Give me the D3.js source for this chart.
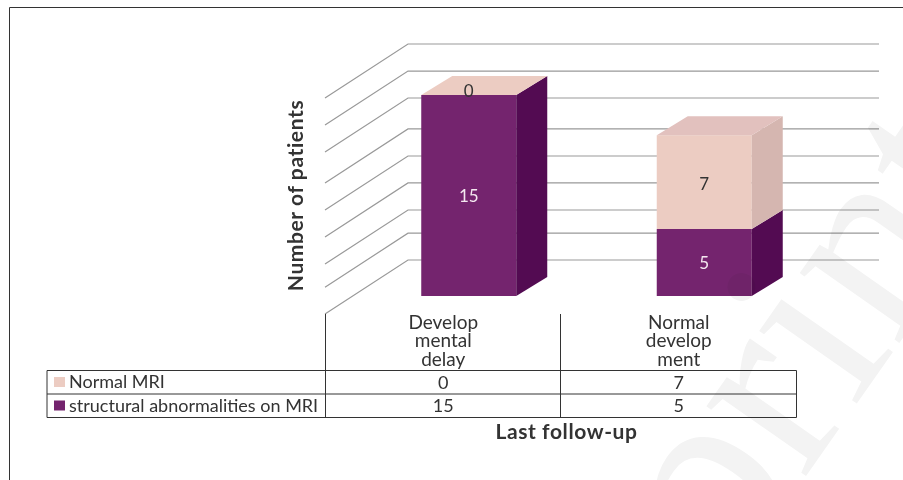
<!DOCTYPE html>
<html><head><meta charset="utf-8">
<script src="https://cdn.jsdelivr.net/npm/d3@7/dist/d3.min.js"></script>
<style>html,body{margin:0;background:#fff}svg{display:block}text{font-family:Lato,"Open Sans",sans-serif;fill:#333}</style>
</head><body><svg id="c" width="903" height="480"></svg>
<script>
const categories = ["Developmental delay", "Normal development"];
const categoryLines = [["Develop","mental","delay"],["Normal","develop","ment"]];
const seriesNames = ["Normal MRI", "structural abnormalities on MRI"];
const normalMRI = [0, 7];
const structural = [15, 5];
const gridLevels = [0, 2, 3.73, 5.75, 7.76, 9.78, 12.09, 14.1, 16.12];
const yTitle = "Number of patients";
const xTitle = "Last follow-up";

const svg = d3.select("#c");
const dx = 31, dy = -19;              // bar depth
const wx = 83, wy = -54;              // wall depth
const y = d3.scaleLinear().domain([0, 16]).range([296, 81.6]);
const xs = d3.scaleBand().domain(categories).range([325.5, 796.5]);
const barW = 95, barShift = 25.5;
const c = {pur:"#74246e", purSide:"#530b52", pink:"#ecccc2", pinkSide:"#d5b6b0", pinkTop:"#e2c1be"};

// frame
svg.append("path").attr("d","M9.5 480V7.5H903").attr("fill","none").attr("stroke","#333").attr("stroke-width",1);

// gridlines
const wallY = v => y(v) + 18;
const g = svg.append("g").attr("stroke","#999").attr("fill","none");
gridLevels.forEach(v => {
  const yl = wallY(v);
  g.append("path").attr("d", `M325 ${yl}L${325+wx} ${yl+wy}H879`).attr("stroke-width",1.2);
});

// bars
categories.forEach((cat, i) => {
  const mid = xs(cat) + xs.bandwidth() / 2;
  const left = mid + barShift - barW / 2;
  const right = left + barW;
  let base = 0;
  [[structural[i], c.pur, c.purSide], [normalMRI[i], c.pink, c.pinkSide]].forEach(([v, f, s]) => {
    const y0 = y(base), y1 = y(base + v);
    svg.append("rect").attr("x",left).attr("y",y1).attr("width",barW).attr("height",y0-y1).attr("fill",f);
    svg.append("path").attr("d",`M${right} ${y0}l${dx} ${dy}V${y1+dy}L${right} ${y1}Z`).attr("fill",s);
    base += v;
  });
  const top = y(base);
  const topFill = normalMRI[i] === 0 ? c.pink : c.pinkTop;
  svg.append("path").attr("d",`M${left} ${top}l${dx} ${dy}h${barW}l${-dx} ${-dy}Z`).attr("fill",topFill);
  const cx = left + barW / 2;
  const lab = (v, b, col, off) => svg.append("text").attr("x",cx).attr("y",y(b + v/2)+off).attr("text-anchor","middle")
     .style("font-size","17px").style("fill",col).text(v);
  lab(structural[i], 0, "#f4e8f0", 6.5);
  lab(normalMRI[i], structural[i], "#333", normalMRI[i] === 0 ? 2 : 7.5);
  categoryLines[i].forEach((t, k) => svg.append("text").attr("x",mid).attr("y",329+k*18.3)
     .attr("text-anchor","middle").style("font-size","19px").text(t));
});

// table
const t = svg.append("g").attr("stroke","#333").attr("stroke-width",1).attr("fill","none");
const tx = [47, 325.5, 560.5, 796.5], ty = [370.5, 394, 417.5];
ty.forEach(v => t.append("line").attr("x1",tx[0]).attr("x2",tx[3]).attr("y1",v).attr("y2",v));
tx.forEach(v => t.append("line").attr("x1",v).attr("x2",v).attr("y1",ty[0]).attr("y2",ty[2]));
[325.5,560.5].forEach(v => t.append("line").attr("x1",v).attr("x2",v).attr("y1",314).attr("y2",ty[0]));

[[normalMRI, c.pink],[structural, c.pur]].forEach(([vals, col], r) => {
  svg.append("rect").attr("x",54).attr("y",ty[r]+6.5).attr("width",11).attr("height",10).attr("fill",col);
  svg.append("text").attr("x",69).attr("y",ty[r]+17.5).style("font-size","18px").text(seriesNames[r]);
  vals.forEach((v,i) => svg.append("text").attr("x",xs(categories[i])+xs.bandwidth()/2).attr("y",ty[r]+18)
    .attr("text-anchor","middle").style("font-size","18px").text(v));
});

svg.append("text").attr("transform","translate(303,195.5) rotate(-90)").attr("text-anchor","middle")
  .style("font-size","21px").style("font-weight","700").style("letter-spacing","0.6px").text(yTitle);
svg.append("text").attr("x",566.5).attr("y",439).attr("text-anchor","middle")
  .style("font-size","21px").style("font-weight","700").style("letter-spacing","0.6px").text(xTitle);

// watermark
svg.append("text").attr("transform","translate(727,589) rotate(-55)")
  .style("font-family","'Liberation Serif',serif").style("font-size","265px").style("fill","#f3f3f3")
  .style("mix-blend-mode","multiply").text("print");
</script></body></html>
